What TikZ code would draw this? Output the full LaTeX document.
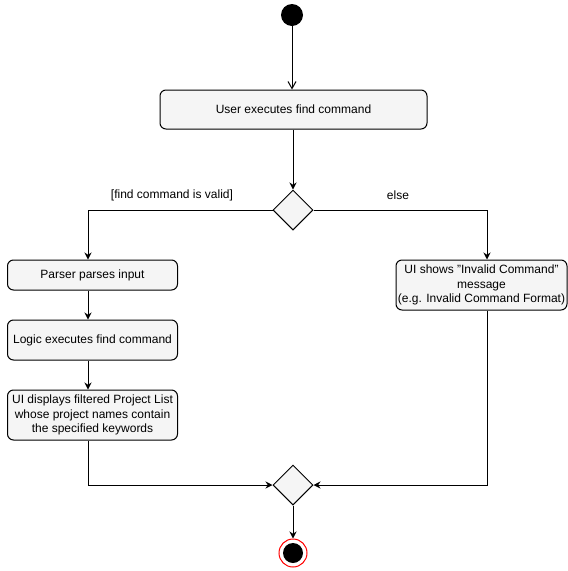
\documentclass[tikz,border=0pt]{standalone}
\usepackage{fontspec}
\setmainfont{Liberation Sans}
\usetikzlibrary{shapes.geometric,arrows.meta}
\definecolor{boxfill}{HTML}{F5F5F5}
\begin{document}
\begin{tikzpicture}[x=1pt,y=-1pt,
  font=\fontsize{12}{14.5}\selectfont,
  act/.style={draw=black, fill=boxfill, rounded corners=6pt, line width=1pt, inner sep=0pt, align=center},
  dec/.style={draw=black, fill=boxfill, diamond, line width=1pt, inner sep=0pt, minimum width=40pt, minimum height=40pt},
  conn/.style={line width=1pt, -{Stealth[length=7pt,width=7pt]}},
]
\useasboundingbox (0,0) rectangle (568,571);
\node[circle, fill=black, minimum size=22pt, inner sep=0pt] (start) at (292,15) {};
\node[act, minimum width=267pt, minimum height=39pt] (user) at (293.5,109.5) {User executes find command};
\node[dec] (d1) at (293,210) {};
\node[act, minimum width=170pt, minimum height=30pt] (parser) at (92.5,275) {Parser parses input};
\node[act, minimum width=170pt, minimum height=40pt] (logic) at (92.5,340) {Logic executes find command};
\node[act, minimum width=170pt, minimum height=50pt] (ui) at (92.5,415) {UI displays filtered Project List\\whose project names contain\\the specified keywords};
\node[act, minimum width=171pt, minimum height=50pt] (inv) at (481.5,285) {UI shows "Invalid Command"\\message\\(e.g. Invalid Command Format)};
\node[dec] (d2) at (293,485) {};
\node[circle, draw=red, fill=white, line width=1pt, minimum size=28pt, inner sep=0pt] (end) at (293,553) {};
\node[circle, fill=black, minimum size=20pt, inner sep=0pt] (endin) at (293,553) {};

\node (lvalid) at (172,195) {[find command is valid]};
\node (lelse) at (398,195) {else};

\coordinate (lx) at (88,210);
\coordinate (rx) at (487,210);
\coordinate (lb) at (88,485);
\coordinate (rb) at (487,485);

\draw[line width=1pt, -{Straight Barb[length=7pt,width=8pt]}] (start) -- (user.north -| start);
\draw[conn] (user.south -| d1) -- (d1.north);
\draw[conn] (d1.west) -- (lx) -- (parser.north -| lx);
\draw[conn] (d1.east) -- (rx) -- (inv.north -| rx);
\draw[conn] (parser.south -| lx) -- (logic.north -| lx);
\draw[conn] (logic.south -| lx) -- (ui.north -| lx);
\draw[conn] (ui.south -| lx) -- (lb) -- (d2.west);
\draw[conn] (inv.south -| rx) -- (rb) -- (d2.east);
\draw[conn] (d2.south) -- (end.north);
\end{tikzpicture}
\end{document}
